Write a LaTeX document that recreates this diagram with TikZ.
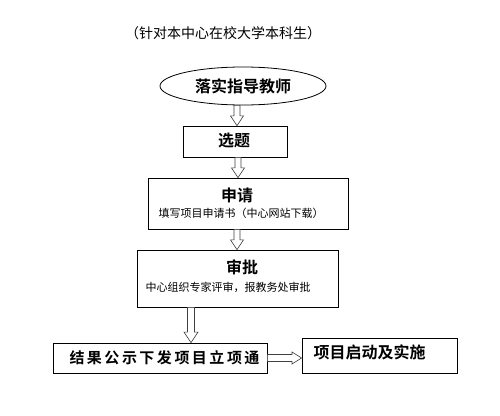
\documentclass[tikz,border=0pt]{standalone}
\usepackage{fontspec}
\newfontfamily\cjk[BoldFont={Noto Sans CJK SC Bold}]{Noto Sans CJK SC}
\usepackage{tikz}
\usetikzlibrary{shapes, arrows.meta, positioning, calc}

% hollow block arrows, drawn from a start point to the border of the next node
\newcommand{\blockdown}[4]{%
  \draw[blockarr] let \p1=#1, \p2=(#2) in
    ({\x1-#3},\y1) -- ({\x1-#3},{\y2+#4*1.5}) -- ({\x1-#4},{\y2+#4*1.5}) -- (\x1,\y2)
    -- ({\x1+#4},{\y2+#4*1.5}) -- ({\x1+#3},{\y2+#4*1.5}) -- ({\x1+#3},\y1) -- cycle;}
\newcommand{\blockright}[4]{%
  \draw[blockarr] let \p1=#1, \p2=(#2) in
    (\x1,{\y1-#3}) -- ({\x2-#4*1.6},{\y1-#3}) -- ({\x2-#4*1.6},{\y1-#4}) -- (\x2,\y1)
    -- ({\x2-#4*1.6},{\y1+#4}) -- ({\x2-#4*1.6},{\y1+#3}) -- (\x1,{\y1+#3}) -- cycle;}

\begin{document}
\begin{tikzpicture}[x=1pt, y=-1pt,
    stepbox/.style={draw, line width=0.8pt, inner sep=0pt},
    blockarr/.style={draw=black!75, fill=white, line width=0.6pt, line join=miter},
    headtxt/.style={font=\cjk\bfseries\fontsize{16}{18}\selectfont},
    subtxt/.style={font=\cjk\fontsize{11}{13}\selectfont}]
  \useasboundingbox (0,0) rectangle (500,415);

  \node[font=\cjk\fontsize{14}{16}\selectfont] (title) at (223,33) {（针对本中心在校大学本科生）};

  \node[draw, ellipse, line width=0.8pt, minimum width=166pt, minimum height=38pt, inner sep=0pt,
    headtxt] (tutor) at (243,86) {落实指导教师};

  \node[stepbox, minimum width=104pt, minimum height=31pt] (topic) at (235,141.5) {};
  \node[headtxt] (topictxt) at (234,141) {选题};

  \node[stepbox, minimum width=200pt, minimum height=51pt] (apply) at (248,203.5) {};
  \node[headtxt] (applytxt) at (237,195) {申请};
  \node[subtxt] (applysub) at (241,213) {填写项目申请书（中心网站下载）};

  \node[stepbox, minimum width=201pt, minimum height=57pt] (review) at (237.5,278.5) {};
  \node[headtxt] (reviewtxt) at (242,267) {审批};
  \node[subtxt] (reviewsub) at (228,287) {中心组织专家评审，报教务处审批};

  \node[stepbox, minimum width=214pt, minimum height=30pt] (result) at (160,358) {};
  \node[font=\cjk\bfseries\fontsize{15}{18}\selectfont] (resulttxt) at (164.5,358)
    {结\,果\,公\,示\,下\,发\,项\,目\,立\,项\,通};

  \node[stepbox, minimum width=155pt, minimum height=35pt] (launch) at (379.5,355.5) {};
  \node[headtxt, anchor=west] (launchtxt) at (310,352) {项目启动及实施};

  \blockdown{([xshift=-6pt]tutor.south)}{topic.north}{3pt}{6.5pt}
  \blockdown{([xshift=3pt]topic.south)}{apply.north}{3pt}{6.5pt}
  \blockdown{([xshift=-11pt]apply.south)}{review.north}{3pt}{6.5pt}
  \blockdown{([xshift=-46.5pt]review.south)}{result.north}{3.5pt}{7pt}
  \blockright{(result.east)}{launch.west}{3.5pt}{6pt}
\end{tikzpicture}
\end{document}
